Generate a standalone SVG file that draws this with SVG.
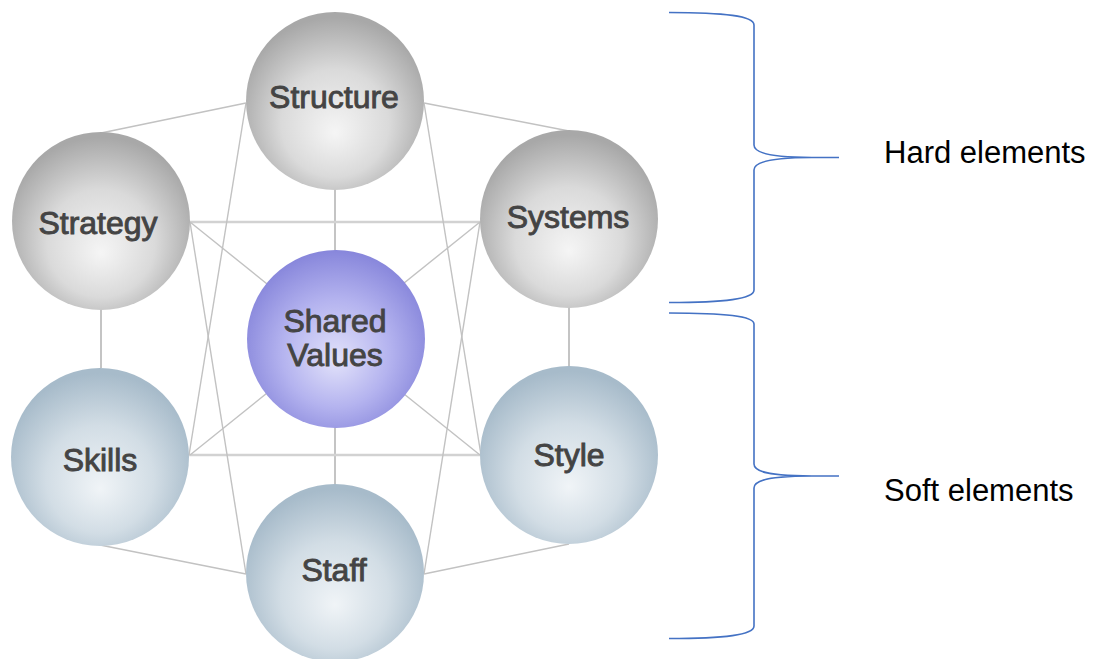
<svg xmlns="http://www.w3.org/2000/svg" width="1093" height="659" viewBox="0 0 1093 659">
  <defs>
    <radialGradient id="gGray" cx="50%" cy="58%" r="55%" fx="50%" fy="68%">
      <stop offset="0" stop-color="#f5f5f5"/>
      <stop offset="0.55" stop-color="#dadada"/>
      <stop offset="1" stop-color="#a8a8a8"/>
    </radialGradient>
    <radialGradient id="gBlue" cx="50%" cy="58%" r="55%" fx="50%" fy="68%">
      <stop offset="0" stop-color="#f0f4f7"/>
      <stop offset="0.55" stop-color="#d2dde5"/>
      <stop offset="1" stop-color="#a7bbca"/>
    </radialGradient>
    <radialGradient id="gViolet" cx="50%" cy="55%" r="55%" fx="50%" fy="62%">
      <stop offset="0" stop-color="#e2e2fa"/>
      <stop offset="0.55" stop-color="#b4b3ef"/>
      <stop offset="1" stop-color="#8786db"/>
    </radialGradient>
    <filter id="soft" x="-10%" y="-10%" width="120%" height="120%">
      <feGaussianBlur stdDeviation="0.6"/>
    </filter>
  </defs>
  <style>
    .link { stroke: #c2c2c2; stroke-width: 1.4; fill: none; }
    .axis { stroke: #d2d2d2; stroke-width: 2.4; fill: none; }
    .stem { stroke: #c4c4c4; stroke-width: 2; fill: none; }
    .label { font-family: "Liberation Sans", Arial, sans-serif; font-size: 32px; fill: #444444; stroke: #444444; stroke-width: 0.9; text-anchor: middle; }
    .brace { stroke: #4472c4; stroke-width: 1.6; fill: none; }
    .note { font-family: "Liberation Sans", Arial, sans-serif; font-size: 31px; fill: #000000; }
  </style>

  <rect width="1093" height="659" fill="#ffffff"/>

  <!-- connectors between the seven elements -->
  <g id="connectors" filter="url(#soft)">
    <!-- outer ring -->
    <line class="link" x1="101" y1="133" x2="246" y2="103"/>
    <line class="link" x1="424" y1="103" x2="569" y2="131"/>
    <line class="stem" x1="569" y1="305" x2="569" y2="368"/>
    <line class="link" x1="569" y1="544" x2="424" y2="574"/>
    <line class="link" x1="246" y1="574" x2="100" y2="545"/>
    <line class="stem" x1="101" y1="308" x2="101" y2="368"/>
    <!-- centre spine -->
    <line class="stem" x1="335" y1="185" x2="335" y2="253"/>
    <line class="stem" x1="335" y1="425" x2="335" y2="486"/>
    <!-- horizontals -->
    <line class="axis" x1="188" y1="222" x2="482" y2="222"/>
    <line class="axis" x1="188" y1="455" x2="482" y2="455"/>
    <!-- diagonals through the centre -->
    <line class="link" x1="190" y1="222" x2="480" y2="455"/>
    <line class="link" x1="480" y1="222" x2="190" y2="455"/>
    <!-- long crossing lines -->
    <line class="link" x1="246" y1="103" x2="189" y2="455"/>
    <line class="link" x1="190" y1="222" x2="246" y2="574"/>
    <line class="link" x1="424" y1="103" x2="481" y2="455"/>
    <line class="link" x1="480" y1="222" x2="424" y2="574"/>
  </g>

  <g id="structure">
    <circle cx="335" cy="101" r="89" fill="url(#gGray)" filter="url(#soft)"/>
    <text class="label" x="334" y="108">Structure</text>
  </g>
  <g id="strategy">
    <circle cx="101" cy="221" r="89" fill="url(#gGray)" filter="url(#soft)"/>
    <text class="label" x="98" y="234">Strategy</text>
  </g>
  <g id="systems">
    <circle cx="569" cy="219" r="89" fill="url(#gGray)" filter="url(#soft)"/>
    <text class="label" x="568" y="228">Systems</text>
  </g>
  <g id="shared-values">
    <circle cx="336" cy="339" r="89" fill="url(#gViolet)" filter="url(#soft)"/>
    <text class="label" x="335" y="332">Shared</text>
    <text class="label" x="335" y="366">Values</text>
  </g>
  <g id="skills">
    <circle cx="100" cy="457" r="89" fill="url(#gBlue)" filter="url(#soft)"/>
    <text class="label" x="100" y="471">Skills</text>
  </g>
  <g id="style">
    <circle cx="569" cy="455" r="89" fill="url(#gBlue)" filter="url(#soft)"/>
    <text class="label" x="569" y="466">Style</text>
  </g>
  <g id="staff">
    <circle cx="335" cy="573" r="89" fill="url(#gBlue)" filter="url(#soft)"/>
    <text class="label" x="334" y="581">Staff</text>
  </g>

  <!-- grouping braces -->
  <g id="hard-brace">
    <path class="brace" d="M669,12.5 C725,12.5 754,16 754,25 L754,145 C754,153 770,157.5 812,157.5 L839,157.5 M812,157.5 C770,157.5 754,162 754,170 L754,290 C754,299 725,302.5 669,302.5"/>
    <text class="note" x="884" y="163">Hard elements</text>
  </g>
  <g id="soft-brace">
    <path class="brace" d="M669,313 C725,313 754,316 754,324 L754,464 C754,472 770,476 812,476 L839,476 M812,476 C770,476 754,480 754,488 L754,626 C754,635 725,638.5 669,638.5"/>
    <text class="note" x="884" y="501">Soft elements</text>
  </g>
</svg>
